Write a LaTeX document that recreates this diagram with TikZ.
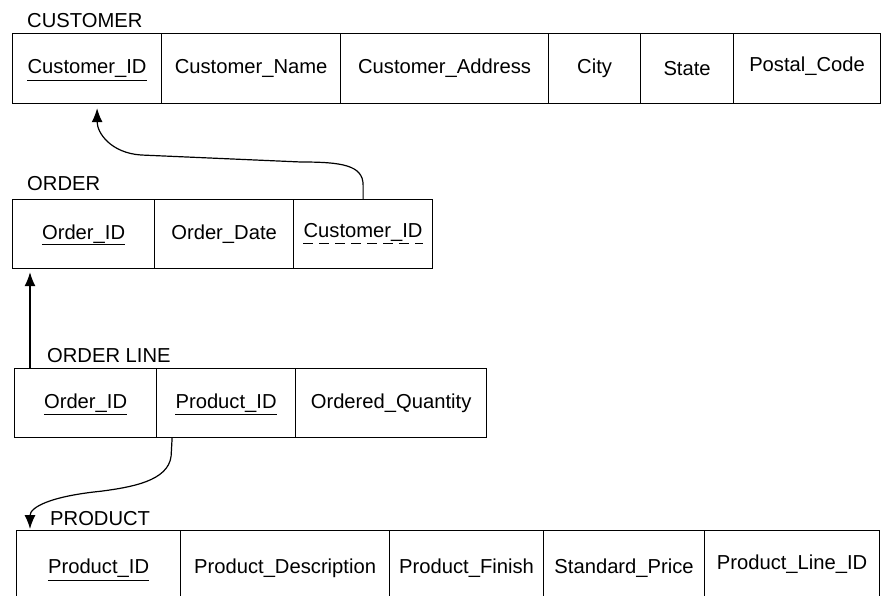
\documentclass[tikz,border=0pt]{standalone}
\usepackage{fontspec}
\setmainfont{Liberation Sans}
\usetikzlibrary{arrows.meta}
\begin{document}
\begin{tikzpicture}[x=1pt,y=-1pt,
  cell/.style={draw,line width=1.2pt,rectangle,anchor=north west,inner sep=0pt},
  txt/.style={inner sep=0pt,font=\fontsize{20.2}{22}\selectfont},
  lbl/.style={inner sep=0pt,anchor=base west,font=\fontsize{20.2}{22}\selectfont},
  pkline/.style={line width=1.1pt},
  fkline/.style={line width=1.1pt,dash pattern=on 10pt off 6pt},
  fk/.style={line width=1.2pt,-{Latex[length=14pt,width=11pt]}}]
\clip (0,0) rectangle (887,595);
\useasboundingbox (0,0) rectangle (887,595);
% CUSTOMER
\node[lbl] (custlbl) at (27,27) {CUSTOMER};
\node[cell,minimum width=149,minimum height=70] (c1) at (12,33) {};
\node[cell,minimum width=179,minimum height=70] (c2) at (161,33) {};
\node[cell,minimum width=208,minimum height=70] (c3) at (340,33) {};
\node[cell,minimum width=92,minimum height=70] (c4) at (548,33) {};
\node[cell,minimum width=93,minimum height=70] (c5) at (640,33) {};
\node[cell,minimum width=147,minimum height=70] (c6) at (733,33) {};
\node[txt] (c1t) at (c1.center) {Customer\_ID};
\node[txt] (c2t) at (c2.center) {Customer\_Name};
\node[txt] (c3t) at (c3.center) {Customer\_Address};
\node[txt] (c4t) at (c4.center) {City};
\node[txt] (c5t) at (c5.center) {State};
\node[txt] (c6t) at ([yshift=2]c6.center) {Postal\_Code};
\draw[pkline] ([yshift=-7]c1t.base west) -- ([yshift=-7]c1t.base east);
% ORDER
\node[lbl] (ordlbl) at (27,190) {ORDER};
\node[cell,minimum width=142,minimum height=69] (o1) at (12,199) {};
\node[cell,minimum width=139,minimum height=69] (o2) at (154,199) {};
\node[cell,minimum width=139,minimum height=69] (o3) at (293,199) {};
\node[txt] (o1t) at (o1.center) {Order\_ID};
\node[txt] (o2t) at (o2.center) {Order\_Date};
\node[txt] (o3t) at ([yshift=2]o3.center) {Customer\_ID};
\draw[pkline] ([yshift=-5]o1t.base west) -- ([yshift=-5]o1t.base east);
\draw[fkline] ([yshift=-6]o3t.base west) -- ([yshift=-6]o3t.base east);
% ORDER LINE
\node[lbl] (ollbl) at (47,362) {ORDER LINE};
\node[cell,minimum width=142,minimum height=69] (l1) at (14,368) {};
\node[cell,minimum width=139,minimum height=69] (l2) at (156,368) {};
\node[cell,minimum width=191,minimum height=69] (l3) at (295,368) {};
\node[txt] (l1t) at (l1.center) {Order\_ID};
\node[txt] (l2t) at (l2.center) {Product\_ID};
\node[txt] (l3t) at (l3.center) {Ordered\_Quantity};
\draw[pkline] ([yshift=-6]l1t.base west) -- ([yshift=-6]l1t.base east);
\draw[pkline] ([yshift=-6]l2t.base west) -- ([yshift=-6]l2t.base east);
% PRODUCT
\node[lbl] (prodlbl) at (50,525) {PRODUCT};
\node[cell,minimum width=164,minimum height=76] (p1) at (16,530) {};
\node[cell,minimum width=209,minimum height=76] (p2) at (180,530) {};
\node[cell,minimum width=154,minimum height=76] (p3) at (389,530) {};
\node[cell,minimum width=161,minimum height=76] (p4) at (543,530) {};
\node[cell,minimum width=175,minimum height=76] (p5) at (704,530) {};
\node[txt] (p1t) at (p1.center) {Product\_ID};
\node[txt] (p2t) at (p2.center) {Product\_Description};
\node[txt] (p3t) at (p3.center) {Product\_Finish};
\node[txt] (p4t) at (p4.center) {Standard\_Price};
\node[txt] (p5t) at ([yshift=4]p5.center) {Product\_Line\_ID};
\draw[pkline] ([yshift=-7]p1t.base west) -- ([yshift=-7]p1t.base east);
% connectors
\draw[fk] (o3.north) -- ++(0,-14)
  .. controls +(0,-20) and +(40,0) .. ([xshift=-62,yshift=37]o3.north)
  -- ([xshift=-222,yshift=44]o3.north)
  .. controls +(-30,-2) and +(0,25) .. ([xshift=10,yshift=-4]c1.south);
\draw[fk] ([xshift=16]l1.north west) -- ([xshift=18,yshift=-3]o1.south west);
\draw[fk] ([xshift=-54]l2.south) -- ++(-1,18)
  .. controls +(-3,25) and +(30,-4) .. ([xshift=-125,yshift=-53]l2.south)
  .. controls +(-50,5) and +(0,-22) .. ([xshift=14,yshift=1]p1.north west);
\end{tikzpicture}
\end{document}
